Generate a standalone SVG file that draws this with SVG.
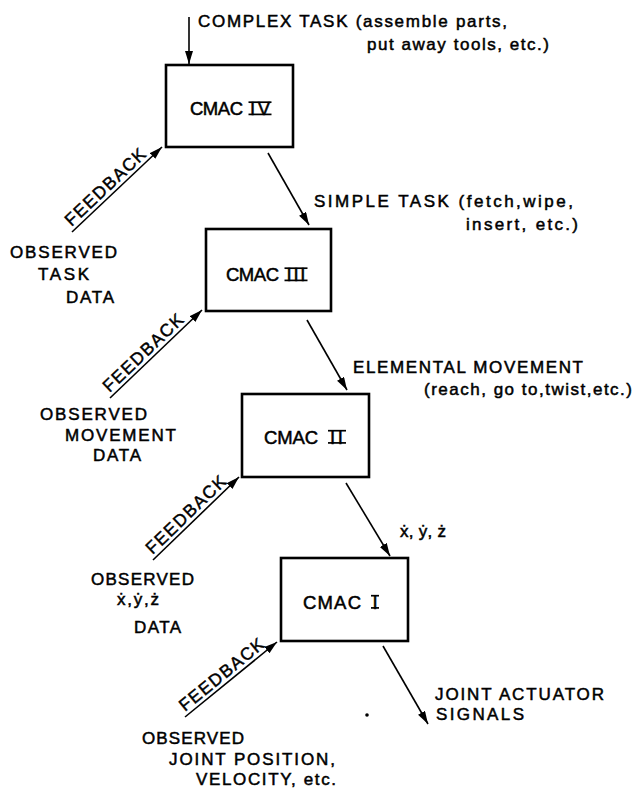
<svg xmlns="http://www.w3.org/2000/svg" width="633" height="789" viewBox="0 0 633 789">
  <style>
    .box { fill: #fff; stroke: #000; stroke-width: 2.6; }
    .lbl { font-family: "Liberation Sans", Arial, sans-serif; font-size: 17px; fill: #000; stroke: #000; stroke-width: 0.5; }
    .node { font-family: "Liberation Sans", Arial, sans-serif; font-size: 18.5px; fill: #000; stroke: #000; stroke-width: 0.5; }
    .fb { font-family: "Liberation Sans", Arial, sans-serif; font-size: 17.5px; fill: #000; stroke: #000; stroke-width: 0.45; }
    .wire { stroke: #000; stroke-width: 1.6; fill: none; marker-end: url(#head); }
    .bar { stroke: #000; stroke-width: 1.7; }
  </style>
  <defs>
    <marker id="head" markerUnits="userSpaceOnUse" markerWidth="14" markerHeight="9" refX="13" refY="4" orient="auto">
      <path d="M0,0 L13,4 L0,8 Z" fill="#000"/>
    </marker>
  </defs>
  <rect width="633" height="789" fill="#fff"/>

  <!-- command and feedback connectors -->
  <g id="connectors">
    <line class="wire" x1="189" y1="17" x2="189" y2="64"/>
    <line class="wire" x1="268" y1="153" x2="309" y2="225"/>
    <line class="wire" x1="307" y1="320" x2="347" y2="390"/>
    <line class="wire" x1="346" y1="483" x2="390" y2="556"/>
    <line class="wire" x1="383" y1="646" x2="428" y2="724"/>
    <line class="wire" x1="72" y1="232" x2="162" y2="147"/>
    <line class="wire" x1="110" y1="398" x2="202" y2="310"/>
    <line class="wire" x1="153" y1="560" x2="239" y2="477"/>
    <line class="wire" x1="185" y1="717" x2="277" y2="642"/>
  </g>

  <g id="feedback-labels">
    <text class="fb" transform="translate(71.5,227.1) rotate(-43.4)" textLength="104" lengthAdjust="spacing">FEEDBACK</text>
    <text class="fb" transform="translate(109.5,393.1) rotate(-43.7)" textLength="104" lengthAdjust="spacing">FEEDBACK</text>
    <text class="fb" transform="translate(152.5,555.1) rotate(-44)" textLength="104" lengthAdjust="spacing">FEEDBACK</text>
    <text class="fb" transform="translate(185,712.1) rotate(-39.2)" textLength="104" lengthAdjust="spacing">FEEDBACK</text>
  </g>

  <!-- level IV -->
  <g id="cmac4">
    <rect class="box" x="166" y="65" width="127" height="82"/>
    <text class="node" x="190" y="115" textLength="53" lengthAdjust="spacing">CMAC</text>
    <text class="node" x="250" y="115" textLength="20" lengthAdjust="spacing">IV</text>
    <line class="bar" x1="248.5" y1="102.2" x2="271.5" y2="102.2"/>
    <line class="bar" x1="248.5" y1="114.4" x2="271.5" y2="114.4"/>
  </g>
  <!-- level III -->
  <g id="cmac3">
    <rect class="box" x="206" y="229" width="125" height="82"/>
    <text class="node" x="226" y="281" textLength="53" lengthAdjust="spacing">CMAC</text>
    <text class="node" x="286.5" y="281" textLength="19" lengthAdjust="spacing">III</text>
    <line class="bar" x1="284.5" y1="268.2" x2="307.5" y2="268.2"/>
    <line class="bar" x1="284.5" y1="280.4" x2="307.5" y2="280.4"/>
  </g>
  <!-- level II -->
  <g id="cmac2">
    <rect class="box" x="242" y="394" width="127" height="83"/>
    <text class="node" x="264" y="443.5" textLength="54" lengthAdjust="spacing">CMAC</text>
    <text class="node" x="330" y="443.5" textLength="13" lengthAdjust="spacing">II</text>
    <line class="bar" x1="328" y1="430.7" x2="346" y2="430.7"/>
    <line class="bar" x1="328" y1="442.9" x2="346" y2="442.9"/>
  </g>
  <!-- level I -->
  <g id="cmac1">
    <rect class="box" x="281" y="558" width="127" height="83"/>
    <text class="node" x="303" y="608.5" textLength="58" lengthAdjust="spacing">CMAC</text>
    <text class="node" x="372.5" y="608.5">I</text>
    <line class="bar" x1="371" y1="595.7" x2="379" y2="595.7"/>
    <line class="bar" x1="371" y1="607.9" x2="379" y2="607.9"/>
  </g>

  <g id="command-labels">
    <text class="lbl" x="198" y="27" textLength="309" lengthAdjust="spacing">COMPLEX TASK (assemble parts,</text>
    <text class="lbl" x="367" y="50" textLength="182" lengthAdjust="spacing">put away tools, etc.)</text>
    <text class="lbl" x="314" y="207" textLength="259" lengthAdjust="spacing">SIMPLE TASK (fetch,wipe,</text>
    <text class="lbl" x="466" y="230" textLength="112" lengthAdjust="spacing">insert, etc.)</text>
    <text class="lbl" x="353" y="373" textLength="230" lengthAdjust="spacing">ELEMENTAL MOVEMENT</text>
    <text class="lbl" x="424" y="395" textLength="208" lengthAdjust="spacing">(reach, go to,twist,etc.)</text>
    <text class="lbl" x="400" y="537" textLength="46" lengthAdjust="spacing">ẋ, ẏ, ż</text>
    <text class="lbl" x="435" y="700" textLength="169" lengthAdjust="spacing">JOINT ACTUATOR</text>
    <text class="lbl" x="436" y="720" textLength="88" lengthAdjust="spacing">SIGNALS</text>
  </g>

  <g id="observed-labels">
    <text class="lbl" x="10" y="258" textLength="107" lengthAdjust="spacing">OBSERVED</text>
    <text class="lbl" x="38" y="280" textLength="51" lengthAdjust="spacing">TASK</text>
    <text class="lbl" x="66" y="303" textLength="48" lengthAdjust="spacing">DATA</text>

    <text class="lbl" x="40" y="420" textLength="107" lengthAdjust="spacing">OBSERVED</text>
    <text class="lbl" x="65" y="441" textLength="111" lengthAdjust="spacing">MOVEMENT</text>
    <text class="lbl" x="93" y="461" textLength="48" lengthAdjust="spacing">DATA</text>

    <text class="lbl" x="91" y="585" textLength="103" lengthAdjust="spacing">OBSERVED</text>
    <text class="lbl" x="117" y="605" textLength="42" lengthAdjust="spacing">ẋ,ẏ,ż</text>
    <text class="lbl" x="134" y="633" textLength="47" lengthAdjust="spacing">DATA</text>

    <text class="lbl" x="142" y="744" textLength="102" lengthAdjust="spacing">OBSERVED</text>
    <text class="lbl" x="169" y="765" textLength="166" lengthAdjust="spacing">JOINT POSITION,</text>
    <text class="lbl" x="196" y="785" textLength="140" lengthAdjust="spacing">VELOCITY, etc.</text>
  </g>

  <circle cx="367" cy="715" r="1.8" fill="#000"/>
</svg>
